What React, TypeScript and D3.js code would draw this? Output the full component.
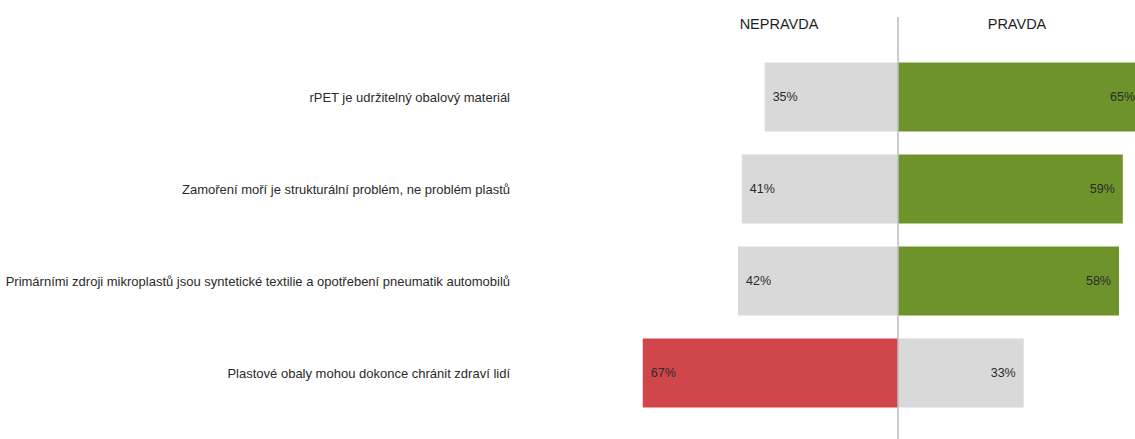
import React from "react";
import * as d3 from "d3";

const categories = [
  "rPET je udržitelný obalový materiál",
  "Zamoření moří je strukturální problém, ne problém plastů",
  "Primárními zdroji mikroplastů jsou syntetické textilie a opotřebení pneumatik automobilů",
  "Plastové obaly mohou dokonce chránit zdraví lidí",
];
const nepravda = [35, 41, 42, 67];
const pravda = [65, 59, 58, 33];
const highlight = ["pravda", "pravda", "pravda", "nepravda"];
const headers = ["NEPRAVDA", "PRAVDA"];

const W = 1135;
const H = 439;
const FONT = "'Liberation Sans', Arial, Helvetica, sans-serif";
const GREEN = "#6e932b";
const RED = "#d0464a";
const GRAY = "#d9d9d9";

export default function App() {
  const cx = 898;
  const x = d3.scaleLinear().domain([-100, 100]).range([cx - 381, cx + 381]);
  const y = d3
    .scaleBand<number>()
    .domain(d3.range(categories.length))
    .range([51, 419])
    .paddingInner(0.25)
    .paddingOuter(0.125);

  return (
    <svg
      width={W}
      height={H}
      style={{ position: "fixed", left: 0, top: 0, background: "#fff" }}
      fontFamily={FONT}
    >
      <rect width={W} height={H} fill="#fff" />
      {categories.map((c, i) => {
        const y0 = y(i)!;
        const bh = y.bandwidth();
        const mid = y0 + bh / 2;
        const nFill = highlight[i] === "nepravda" ? RED : GRAY;
        const pFill = highlight[i] === "pravda" ? GREEN : GRAY;
        const xl = x(-nepravda[i]);
        const xr = x(pravda[i]);
        return (
          <g key={i}>
            <rect x={xl} y={y0} width={x(0) - xl} height={bh} fill={nFill} />
            <rect x={x(0)} y={y0} width={xr - x(0)} height={bh} fill={pFill} />
            <text
              x={510}
              y={mid}
              dy="0.35em"
              textAnchor="end"
              fontSize={13}
              fill="#2a2a2a"
            >
              {c}
            </text>
            <text x={xl + 8} y={mid} dy="0.35em" fontSize={12.5} fill="#2a2a2a">
              {nepravda[i]}%
            </text>
            <text
              x={xr > W ? W : xr - 8}
              y={mid}
              dy="0.35em"
              textAnchor="end"
              fontSize={12.5}
              fill="#2a2a2a"
            >
              {pravda[i]}%
            </text>
          </g>
        );
      })}
      <line x1={x(0)} x2={x(0)} y1={17} y2={H} stroke="#bdbdbd" strokeWidth={1.5} />
      <text x={779} y={24} dy="0.35em" textAnchor="middle" fontSize={14.5} fill="#1e1e1e">
        {headers[0]}
      </text>
      <text x={1017} y={24} dy="0.35em" textAnchor="middle" fontSize={14.5} fill="#1e1e1e">
        {headers[1]}
      </text>
    </svg>
  );
}
